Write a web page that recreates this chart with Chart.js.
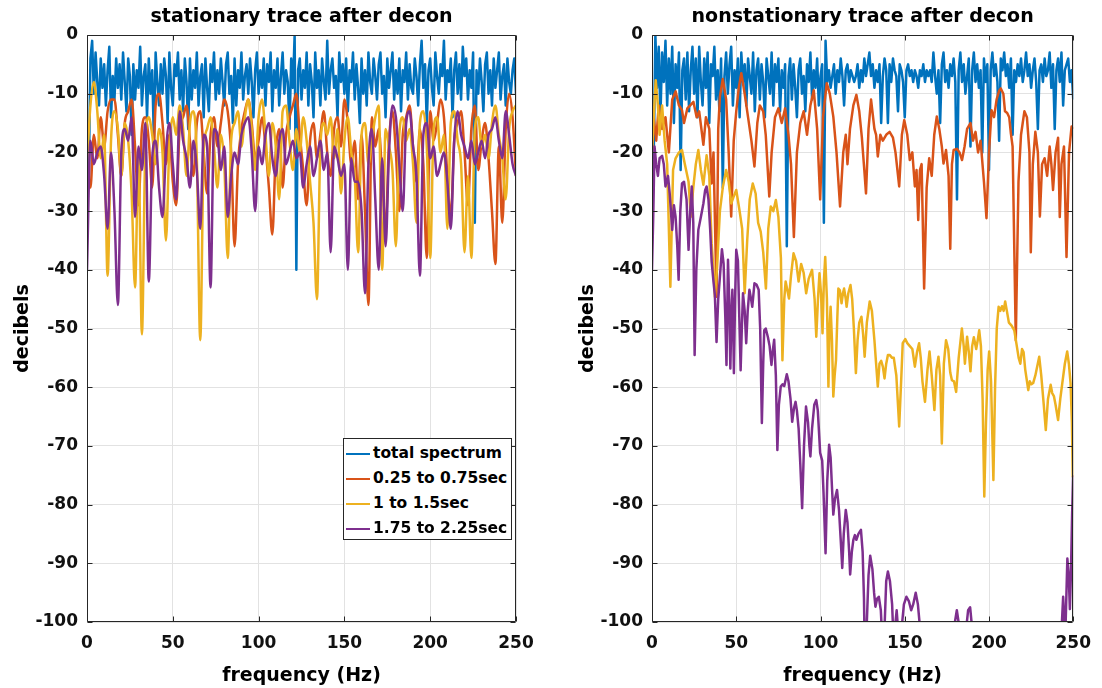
<!DOCTYPE html>
<html><head><meta charset="utf-8">
<script src="https://cdn.jsdelivr.net/npm/chart.js@4.4.1/dist/chart.umd.min.js"></script>
<style>
html,body{margin:0;padding:0;background:#fff;width:1102px;height:688px;overflow:hidden;}
.panel{position:absolute;top:0;height:688px;}
#legend{position:absolute;left:343px;top:438px;width:167px;height:100px;border:1px solid #262626;background:#fff;font:bold 15.5px "DejaVu Sans",sans-serif;color:#000;}
.row{position:absolute;left:0;width:167px;height:25px;line-height:25px;white-space:nowrap;}
.sw{position:absolute;left:2px;top:12px;width:24px;height:2px;}
.lbl{position:absolute;left:29px;top:0;}
</style></head><body>
<div class="panel" style="left:0;width:551px"><canvas id="c1" width="551" height="688"></canvas></div>
<div class="panel" style="left:565px;width:537px"><canvas id="c2" width="537" height="688"></canvas></div>
<div id="legend"></div>
<script>
// ---------- tick labels / categories ----------
const xTickValues = [0, 50, 100, 150, 200, 250];
const yTickValues = [0, -10, -20, -30, -40, -50, -60, -70, -80, -90, -100];
const seriesNames = ['total spectrum', '0.25 to 0.75sec', '1 to 1.5sec', '1.75 to 2.25sec'];
const seriesColors = ['#0072BD', '#D95319', '#EDB120', '#7E2F8E'];
const titles = ['stationary trace after decon', 'nonstationary trace after decon'];

// ---------- stationary trace (left): uniform frequency grids 0..250 Hz ----------
// total spectrum, 1 Hz spacing (dB)
const leftTotal = [
-15,-25,-4,-1,-10,-3,-8,-12,-4,-9,
-5,-12,-6,-2,-14,-7,-11,-4,-9,-5,
-11,-3,-8,-13,-4,-7,-17,-5,-11,-6,
-9,-2,-12,-7,-5,-14,-4,-10,-6,-18,
-3,-8,-12,-5,-10,-4,-7,-15,-3,-9,
-12,-5,-7,-3,-11,-6,-13,-4,-8,-16,
-4,-11,-6,-9,-3,-12,-7,-5,-14,-4,
-9,-13,-5,-8,-3,-11,-6,-10,-4,-8,
-12,-5,-3,-10,-7,-15,-4,-12,-6,-9,
-3,-11,-7,-5,-10,-4,-8,-14,-6,-3,
-10,-6,-9,-4,-12,-5,-8,-3,-13,-6,
-9,-4,-12,-7,-3,-10,-6,-8,-16,-4,
-9,0,-40,-6,-4,-11,-6,-9,-3,-12,
-5,-8,-14,-3,-9,-6,-12,-4,-8,-11,
-1,-10,-6,-4,-9,-7,-14,-3,-8,-5,
-10,-4,-13,-6,-8,-3,-11,-5,-9,-15,
-4,-10,-6,-12,-3,-8,-10,-4,-7,-11,
-5,-3,-10,-7,-14,-4,-9,-6,-3,-11,
-6,-10,-4,-13,-6,-8,-3,-11,-5,-9,
-10,-4,-7,-12,-5,-1,-9,-5,-15,-6,
-4,-9,-12,-3,-7,-10,-5,-7,-1,-11,
-6,-8,-4,-14,-6,-3,-10,-5,-11,-2,
-7,-4,-11,-6,-9,-3,-32,-6,-10,-4,
-8,-13,-5,-3,-10,-6,-12,-4,-9,-6,
-3,-11,-7,-5,-12,-4,-8,-10,-6,-4,
-10];
// 2 Hz spacing (dB)
const leftEarly = [
-25,-26,-17,-21,-14,-19,-13,-11,-11,-17,
-24,-15,-13,-11,-19,-29,-16,-14,-18,-26,
-12,-10,-15,-22,-17,-25,-29,-16,-14,-12,
-18,-24,-15,-13,-20,-27,-17,-14,-19,-15,
-11,-13,-20,-36,-22,-16,-13,-11,-15,-21,
-18,-14,-19,-26,-34,-20,-16,-26,-17,-14,
-12,-10,-17,-23,-29,-18,-15,-21,-17,-13,
-20,-24,-16,-14,-19,-11,-15,-22,-18,-28,
-17,-30,-46,-14,-19,-16,-24,-33,-18,-13,
-20,-30,-17,-14,-12,-19,-25,-16,-22,-38,
-13,-18,-15,-11,-14,-24,-31,-18,-15,-13,
-20,-29,-16,-12,-23,-18,-15,-21,-30,-39,
-19,-32,-16,-10,-14,-24];
const leftMid = [
-22,-12,-8,-13,-21,-17,-41,-18,-13,-16,
-24,-15,-18,-27,-43,-20,-51,-19,-14,-17,
-22,-16,-20,-35,-19,-14,-17,-12,-16,-24,
-15,-13,-21,-52,-20,-16,-14,-19,-26,-17,
-22,-38,-18,-15,-13,-19,-14,-11,-16,-23,
-14,-11,-17,-24,-15,-19,-28,-13,-12,-18,
-23,-16,-20,-14,-18,-25,-32,-45,-19,-15,
-17,-14,-21,-16,-27,-18,-14,-20,-24,-37,
-17,-15,-22,-18,-14,-12,-40,-16,-19,-23,
-36,-17,-14,-18,-16,-22,-32,-15,-13,-19,
-38,-16,-14,-20,-17,-33,-15,-13,-18,-22,
-37,-24,-38,-16,-14,-19,-17,-21,-15,-12,
-17,-21,-28,-16,-13,-12];
const leftLate = [
-40,-18,-22,-20,-19,-24,-33,-20,-30,-46,
-20,-16,-18,-14,-31,-19,-23,-15,-42,-21,
-18,-26,-31,-20,-15,-22,-28,-13,-18,-21,
-26,-18,-23,-33,-17,-19,-43,-16,-17,-23,
-19,-31,-24,-20,-22,-17,-15,-14,-20,-30,
-19,-22,-17,-15,-21,-24,-18,-16,-22,-20,
-18,-21,-20,-26,-22,-19,-24,-21,-18,-23,
-20,-37,-19,-21,-24,-22,-40,-21,-25,-25,
-30,-44,-22,-16,-28,-40,-21,-36,-20,-12,
-14,-22,-30,-15,-13,-19,-24,-41,-17,-15,
-21,-19,-24,-22,-20,-25,-33,-18,-13,-17,
-19,-21,-18,-22,-20,-18,-21,-17,-16,-14,
-18,-21,-13,-17,-22,-24];

// ---------- nonstationary trace (right) ----------
// total spectrum, 1 Hz spacing (dB)
const rightTotal = [
-13,-21,0,-9,-2,-14,-3,-8,-1,-12,
-4,-10,-2,-15,-5,-9,-3,-23,-6,-4,
-11,-3,-13,-6,-2,-10,-4,-14,-2,-8,
-12,-4,-9,-3,-15,-5,-7,-2,-11,-6,
-13,-4,-26,-7,-3,-10,-5,-2,-12,-6,
-9,-4,-14,-3,-8,-5,-12,-4,-7,-10,
-3,-13,-6,-4,-11,-5,-8,-14,-4,-7,
-10,-3,-12,-5,-8,-4,-13,-6,-9,-5,
-36,-7,-4,-11,-5,-9,-14,-6,-4,-10,
-7,-13,-5,-8,-3,-11,-6,-9,-4,-12,
-7,-5,-32,-1,-8,-6,-9,-7,-5,-10,
-6,-8,-4,-7,-12,-6,-5,-8,-6,-7,
-8,-7,-5,-9,-6,-8,-4,-7,-5,-3,
-7,-5,-9,-6,-8,-5,-15,-7,-4,-6,
-15,-5,-8,-4,-6,-7,-13,-5,-6,-8,
-14,-6,-5,-7,-6,-8,-6,-7,-9,-6,
-7,-5,-8,-6,-7,-6,-8,-3,-7,-10,
-6,-15,-5,-3,-8,-6,-9,-5,-7,-4,
-8,-28,-6,-3,-8,-5,-10,-7,-4,-19,
-6,-3,-8,-5,-9,-6,-20,-4,-8,-5,
-23,-6,-3,-7,-5,-8,-18,-4,-6,-3,
-7,-5,-9,-4,-17,-6,-8,-5,-7,-4,
-8,-6,-3,-7,-5,-9,-6,-4,-8,-16,
-6,-5,-8,-4,-7,-6,-3,-9,-5,-16,
-6,-4,-8,-3,-12,-6,-5,-4,-8,-6,
-11];
// traced [Hz, dB] vertices
const rightEarly = [
[0,-20],[1,-14],[2.5,-18],[4,-12],[6,-16],[8,-14],[10,-20],[12,-11],[14,-9.6],[16,-12],
[17.8,-12.8],[19,-15],[21,-12.5],[24.6,-11.4],[26.5,-14],[28,-13],[30.5,-18.7],[32,-14],[34,-16],[35.4,-25.3],
[36.5,-20],[38.3,-44.6],[39.3,-16],[40.3,-10.5],[42,-7.5],[44,-11],[45.5,-20],[47,-30.9],[48.5,-18],[50,-13],
[51.5,-9],[53,-6.5],[55,-10],[57,-14],[59,-18],[60.8,-22.4],[62.5,-15],[64,-12],[66,-13],[67.5,-17],
[69.6,-27.5],[71,-20],[73,-14],[75,-12.5],[77,-15],[79,-12.5],[81,-17],[82.5,-22],[84.2,-34.4],[86,-20],
[88,-15],[90,-13],[92,-17],[94,-12],[96,-9.4],[98,-16],[99.8,-28],[101.5,-14],[103.7,-8.2],[105.5,-10],
[107.6,-13.9],[109.5,-20],[111.6,-29.2],[113.5,-20],[115,-17],[116,-22],[117.5,-16],[119.5,-12],[121.3,-10.2],[123,-13],
[124.5,-17.3],[126,-23],[127,-27],[128.5,-16],[130,-11],[132,-16],[133,-17],[134,-20.7],[135.5,-17],[137,-18],
[139,-17],[141,-16.5],[143,-17.5],[144.5,-20],[146.7,-25.8],[148.3,-17],[149.7,-14.5],[151.5,-17],[153,-21.3],[154.5,-20],
[156,-25.8],[157,-23],[158,-31.5],[159,-23],[160,-22],[161.5,-43.2],[163,-26],[164.5,-21],[166,-24],[167.5,-17],
[169,-13.9],[170.5,-16],[172,-19],[173,-21.9],[174.5,-19.6],[176,-24],[177,-36.4],[178,-22],[179,-19.6],[181,-19.4],
[182.5,-20],[184,-21.3],[185.5,-19],[187,-16],[189,-15],[190.5,-18],[192,-16.5],[193.5,-20],[195,-18],[197,-25],
[198.5,-31.2],[200,-20],[201.5,-12.8],[203,-14],[204.5,-11],[206,-9.5],[207,-9.1],[208.5,-10],[209.5,-13],[210.8,-13.3],
[212,-14],[213,-16.8],[214,-19],[215.9,-52],[217.5,-25],[219,-17],[220,-15],[221,-13],[222.5,-14],[224,-20],
[224.8,-37],[226,-22],[227.5,-16.5],[229,-20],[230.2,-30.9],[231.5,-22],[233,-21],[234.5,-24],[236,-19],[237,-22],
[238,-26.4],[239.5,-20],[241,-17.5],[242,-31],[243,-22],[244.5,-19],[246,-37.8],[247.5,-20],[249,-15.6],[250,-16]];
const rightMid = [
[0,-20],[1,-14],[2.2,-7.7],[3.5,-12],[4.5,-17],[6,-12],[7.5,-18],[9,-22],[10.9,-42.9],[12.5,-23],
[14,-21],[16,-20],[17.8,-19.6],[19.5,-22],[21.7,-25],[23,-31],[24.5,-26],[26,-22],[27.5,-19.6],[29,-23],
[30.5,-25.5],[32.4,-20.5],[34,-24],[35.4,-35.5],[36.5,-40],[37.3,-44.6],[38.5,-40],[40.3,-30],[42,-26],[44,-23],
[45.5,-25],[47,-28.7],[48.5,-27.5],[50,-26.4],[52,-30],[53.5,-33],[55,-44],[56.5,-35],[58,-28],[59.8,-25.3],
[61.5,-27],[63,-32],[64.5,-33.5],[66,-37],[67.6,-43.2],[69,-33],[70.5,-29.2],[72,-30],[73.5,-28.1],[75,-31],
[76.5,-38],[77.4,-55.4],[78.5,-45],[79.3,-42],[81.3,-44.9],[82.5,-41],[84,-37.2],[85.5,-38.5],[87,-42],[88.5,-39],
[90,-40.5],[91.5,-44],[93,-41.5],[95,-40],[96.5,-45],[97.5,-51.4],[98.5,-45],[99.4,-40.6],[100.3,-44],[101.2,-50.8],
[102,-42],[102.8,-37.8],[103.8,-45],[104.7,-59.9],[105.4,-50],[106,-46.3],[106.8,-52],[107.6,-61.6],[108.4,-58],[109.2,-55.4],
[110,-48],[110.6,-43.2],[111.5,-43.5],[112.5,-45.7],[113.3,-44],[114,-43.2],[115,-45],[115.5,-46.3],[116.5,-44],[117.8,-42.6],
[118.8,-45],[119.8,-50],[121,-57.6],[122,-52],[123,-49],[124.3,-48],[125.3,-51],[126.2,-54.8],[127.5,-49],[129.2,-45.4],
[130.5,-47],[132,-52],[133,-56],[134,-59.9],[135,-56],[136,-55.5],[137,-56.5],[138,-58.5],[139,-56],[140,-54.5],
[141,-54.5],[142.5,-55],[143.5,-55],[145,-58],[146.7,-66.7],[148,-58],[148.8,-52.5],[150.3,-51.8],[151.5,-52.5],[153,-53],
[154.5,-53.5],[156,-56.5],[157.3,-54],[158.5,-52.5],[159.5,-55],[160.5,-59],[162,-62.5],[163.5,-57],[164.7,-53.9],[166,-58],
[167.6,-63.9],[168.8,-57],[170,-54.8],[171,-58],[172,-69.6],[173.2,-56],[174.5,-52],[175.8,-53.5],[177,-57.5],[178,-58.8],
[179.2,-59],[180.5,-60.8],[182,-55],[183.9,-50],[185,-53],[185.7,-56],[187,-51.4],[188,-54],[189,-57.3],[190,-53],
[191,-51.5],[192.4,-53.5],[193.3,-52],[194.2,-50.3],[195.2,-53],[196.2,-62],[197.2,-78.6],[198.2,-66],[199.2,-57],[200.1,-53.9],
[201.2,-59],[202.6,-75.8],[203.6,-60],[204.6,-50],[205.7,-46.3],[206.7,-47],[207.7,-46.2],[208.7,-47],[209.6,-45.4],[210.6,-47],
[211.8,-49],[213.4,-49.5],[215,-50.3],[216.5,-53],[217.6,-55],[218.6,-56],[219.6,-53.5],[220.5,-54],[221.5,-57],[223.3,-60.5],
[224.2,-59],[225.2,-59.5],[226.2,-59.3],[227.5,-58],[229.8,-54.8],[231,-58],[232.5,-63],[233.7,-67.3],[235,-62],[236.6,-59.6],
[237.5,-61],[238.5,-61.5],[239.5,-63],[241,-65.6],[242.3,-62],[243.5,-59.3],[245,-56],[246.4,-53.9],[247.4,-56],[248.4,-59.3],
[249.2,-66],[249.7,-75.2],[250,-75]];
const rightLate = [
[0,-40],[0.8,-30],[1.5,-19],[2.5,-22],[3.5,-24],[4.5,-21],[6,-20.6],[7,-22],[8,-25.8],[9.5,-24],
[10.5,-27],[12,-33.2],[13,-29],[14,-31],[15,-36],[15.8,-41.7],[16.8,-30],[17.8,-25.3],[19,-25],[20.5,-28],
[21.7,-36.6],[22.7,-30],[23.6,-25.8],[24.5,-32],[25.3,-54.5],[26.3,-40],[27.5,-33.2],[29,-31],[30.5,-28.7],[31.5,-26.5],
[32.4,-25.8],[33.5,-28],[34.5,-33],[35.4,-38.6],[36.5,-42],[37.3,-44.3],[38.3,-52.3],[39.3,-45],[40.3,-41.2],[41.5,-36.5],
[42.5,-39],[43.5,-48],[44.2,-56.2],[45.1,-38.3],[45.8,-45],[46.5,-56.8],[47.1,-48],[47.7,-43.4],[48.2,-50],[48.6,-57.6],
[49.3,-45],[50,-36.6],[51,-38.5],[51.8,-48],[52.6,-57.1],[53.3,-50],[54,-44],[55,-47],[55.9,-52.5],[56.8,-47],
[57.8,-43.4],[58.8,-45],[59.5,-46.3],[60.8,-42.3],[62,-42.5],[63.3,-43.4],[64.2,-50],[65.2,-66.1],[66,-56],[66.6,-50.3],
[67.5,-50],[68.8,-51.5],[69.8,-53],[70.9,-56.2],[71.6,-54],[72.5,-51.9],[73.5,-58],[74.4,-70.7],[75.3,-63],[76.4,-59.9],
[77.5,-59.5],[78.5,-59.8],[80,-57.8],[81,-59],[82.2,-62],[83.2,-65.9],[84.3,-63.5],[85.2,-62.5],[86,-64],[87,-67],
[88,-73],[89.1,-80.6],[90.2,-70],[91.4,-63.3],[92.6,-66],[93.4,-70],[94,-71.8],[95,-67],[96.3,-63],[97.5,-62.2],
[98.4,-64],[99.8,-71.2],[101,-72.5],[101.8,-78],[103,-88.3],[104,-76],[105.1,-69.8],[106,-72],[106.8,-77],[107.6,-81.7],
[108.6,-79],[109.8,-77.5],[111,-81],[112,-86],[112.9,-90.8],[113.8,-85],[115,-80.9],[116,-83],[117,-88],[117.6,-91.9],
[118.6,-88],[119.5,-86],[120.4,-85.2],[121.3,-86],[122.5,-85],[124,-84.3],[125,-88],[125.8,-96],[126.2,-104],[127.5,-100],
[128.5,-92],[129.5,-88.7],[130.8,-91],[131.8,-95],[132.6,-97.4],[133.6,-96],[134.6,-95.7],[135.8,-98],[136.8,-104],[138,-101],
[139,-93],[140,-91.4],[141.2,-93],[142.5,-97],[143.3,-103],[144.2,-101],[145.2,-98],[146.2,-102],[147.2,-104],[148.5,-100],
[149.5,-97],[151,-95.7],[152.5,-96.5],[153.8,-98],[155,-97],[156.5,-95],[157.8,-97],[158.9,-100.5],[160,-106],[162,-110],
[165,-112],[170,-115],[175,-110],[178,-104],[179.5,-100.5],[180.9,-98],[182.2,-100.5],[183.5,-104],[185,-104],[186.5,-101],
[187.6,-98],[188.8,-97.5],[189.8,-100.5],[191,-106],[195,-112],[200,-115],[210,-118],[220,-116],[230,-112],[238,-108],
[242,-104],[243.2,-100.5],[244,-95.7],[244.8,-100.5],[245.5,-100],[246.5,-89.2],[247.3,-92],[248,-97.8],[248.6,-92],[249.3,-82],
[249.9,-75.2],[250,-75]];

// ---------- helpers ----------
const FMIN = 0, FMAX = 250;
const onGrid = vals => vals.map((v, i) => ({x: FMIN + i * (FMAX - FMIN) / (vals.length - 1), y: v}));
const fromPairs = arr => arr.map(p => ({x: p[0], y: p[1]}));

Chart.defaults.font.family = '"DejaVu Sans", sans-serif';
Chart.defaults.font.weight = 'bold';
Chart.defaults.color = '#111';

const framePlugin = {
  id: 'frame',
  afterDatasetsDraw(chart) {
    const {ctx, chartArea: a, scales: {x, y}} = chart;
    ctx.save();
    ctx.strokeStyle = '#262626';
    ctx.lineWidth = 1;
    const L = Math.round(a.left) + 0.5, R = Math.round(a.right) - 0.5;
    const T = Math.round(a.top) + 0.5, B = Math.round(a.bottom) - 0.5;
    ctx.beginPath();
    ctx.rect(L, T, R - L, B - T);
    const tl = 5;
    xTickValues.forEach(v => {
      const px = Math.round(x.getPixelForValue(v)) + 0.5;
      ctx.moveTo(px, B); ctx.lineTo(px, B - tl);
      ctx.moveTo(px, T); ctx.lineTo(px, T + tl);
    });
    yTickValues.forEach(v => {
      const py = Math.round(y.getPixelForValue(v)) + 0.5;
      ctx.moveTo(L, py); ctx.lineTo(L + tl, py);
      ctx.moveTo(R, py); ctx.lineTo(R - tl, py);
    });
    ctx.stroke();
    ctx.restore();
  }
};

function makeDatasets(series, smoothFlags) {
  return series.map((data, k) => ({
    label: seriesNames[k],
    data: data,
    borderColor: seriesColors[k],
    backgroundColor: seriesColors[k],
    borderWidth: 2.5,
    pointRadius: 0,
    tension: smoothFlags[k] ? 0.4 : 0,
    cubicInterpolationMode: smoothFlags[k] ? 'monotone' : 'default',
    borderJoinStyle: 'round',
    fill: false,
    order: 3 - k
  }));
}

function makeChart(id, title, series, smoothFlags, padRight) {
  return new Chart(document.getElementById(id), {
    type: 'line',
    data: {datasets: makeDatasets(series, smoothFlags)},
    plugins: [framePlugin],
    options: {
      responsive: false,
      animation: false,
      devicePixelRatio: 1,
      events: [],
      layout: {padding: {left: 0, right: padRight, top: 0, bottom: 0}, autoPadding: false},
      plugins: {
        legend: {display: false},
        tooltip: {enabled: false},
        title: {display: true, text: title, fullSize: false, color: '#000',
                font: {size: 19, weight: 'bold'}, padding: {top: 6, bottom: 6.2}}
      },
      scales: {
        x: {
          type: 'linear', min: FMIN, max: FMAX,
          afterBuildTicks: s => { s.ticks = xTickValues.map(v => ({value: v})); },
          afterFit: s => { s.height = 66; },
          grid: {color: '#e2e2e2', lineWidth: 1, drawTicks: false},
          border: {display: false},
          ticks: {padding: 11, autoSkip: false, maxRotation: 0, color: '#111', font: {size: 17, weight: 'bold'}},
          title: {display: true, text: 'frequency (Hz)', color: '#000', font: {size: 19, weight: 'bold'}, padding: {top: 0, bottom: 1}}
        },
        y: {
          type: 'linear', min: -100, max: 0,
          afterBuildTicks: s => { s.ticks = yTickValues.map(v => ({value: v})); },
          afterFit: s => { s.width = 87; },
          grid: {color: '#e2e2e2', lineWidth: 1, drawTicks: false},
          border: {display: false},
          ticks: {padding: 9, color: '#111', font: {size: 17, weight: 'bold'}},
          title: {display: true, text: 'decibels', color: '#000', font: {size: 19, weight: 'bold'}, padding: {top: 11.5, bottom: 0}}
        }
      }
    }
  });
}

makeChart('c1', titles[0], [onGrid(leftTotal), onGrid(leftEarly), onGrid(leftMid), onGrid(leftLate)], [false, true, true, true], 35);
makeChart('c2', titles[1], [onGrid(rightTotal), fromPairs(rightEarly), fromPairs(rightMid), fromPairs(rightLate)], [false, false, false, false], 22);

// legend (left panel)
const lg = document.getElementById('legend');
seriesNames.forEach((name, i) => {
  const r = document.createElement('div');
  r.className = 'row';
  r.style.top = (1.8 + 25 * i) + 'px';
  r.innerHTML = '<span class="sw" style="background:' + seriesColors[i] + '"></span><span class="lbl">' + name + '</span>';
  lg.appendChild(r);
});
</script>
</body></html>
